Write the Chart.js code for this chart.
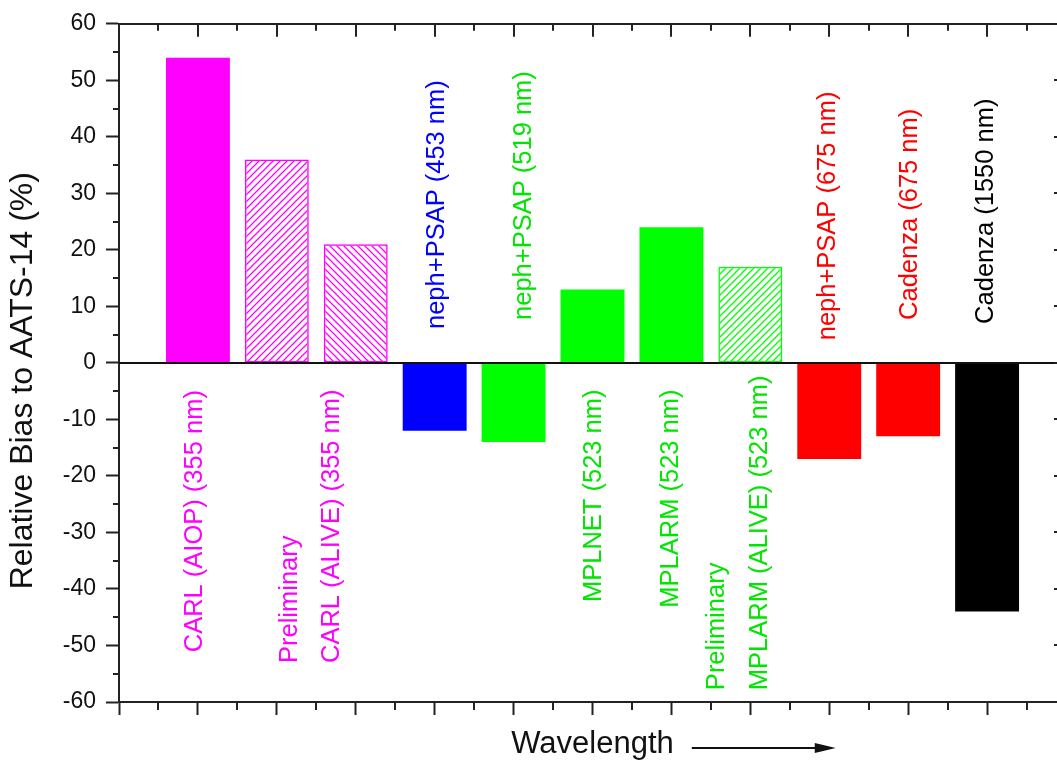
<!DOCTYPE html>
<html>
<head>
<meta charset="utf-8">
<style>
html,body{margin:0;padding:0;overflow:hidden;background:#fff;}
canvas{display:block;}
</style>
<script src="https://cdn.jsdelivr.net/npm/chart.js@4.4.0/dist/chart.umd.min.js"></script>
</head>
<body>
<canvas id="c" width="1070" height="767"></canvas>
<script>
// ---------------- data ----------------
const categories = [
  'CARL (AIOP) 355 nm', 'CARL (ALIVE) 355 nm a', 'CARL (ALIVE) 355 nm b',
  'neph+PSAP 453 nm', 'neph+PSAP 519 nm', 'MPLNET 523 nm', 'MPLARM 523 nm',
  'MPLARM (ALIVE) 523 nm', 'neph+PSAP 675 nm', 'Cadenza 675 nm', 'Cadenza 1550 nm'
];
const values = [54, 36, 21, -12, -14, 13, 24, 17, -17, -13, -44];
const yTickValues = [-60, -50, -40, -30, -20, -10, 0, 10, 20, 30, 40, 50, 60];
const labelTexts = [
  ['CARL (AIOP) (355 nm)'],
  ['Preliminary', 'CARL (ALIVE) (355 nm)'],
  ['neph+PSAP (453 nm)'],
  ['neph+PSAP (519 nm)'],
  ['MPLNET (523 nm)'],
  ['MPLARM (523 nm)'],
  ['Preliminary', 'MPLARM (ALIVE) (523 nm)'],
  ['neph+PSAP (675 nm)'],
  ['Cadenza (675 nm)'],
  ['Cadenza (1550 nm)']
];
const xTitle = 'Wavelength';
const yTitle = 'Relative Bias to AATS-14 (%)';

// ---------------- styles / layout ----------------
const barColors = ['#ff00ff','#ff00ff','#ff00ff','#0000ff','#00ff00','#00ff00','#00ff00','#00ff00','#ff0000','#ff0000','#000000'];
const barHatch  = [null, '/', '\\', null, null, null, null, '/', null, null, null];
// label anchors in data units: x per line, y value; 'start' = text begins (bottom) at y, 'end' = text ends (top) at y
const labelLayout = [
  {x:[-0.04],      y:-51.2, anchor:'start', color:'#ff00ff'},
  {x:[1.17, 1.70], y:-53.1, anchor:'start', color:'#ff00ff'},
  {x:[3.03],       y:6.0,   anchor:'start', color:'#0000ff'},
  {x:[4.13],       y:7.6,   anchor:'start', color:'#00e600'},
  {x:[5.02],       y:-4.7,  anchor:'end',   color:'#00e600'},
  {x:[5.99],       y:-4.7,  anchor:'end',   color:'#00e600'},
  {x:[6.58, 7.12], y:-57.9, anchor:'start', color:'#00e600'},
  {x:[7.98],       y:4.0,   anchor:'start', color:'#ff0000'},
  {x:[9.02],       y:7.6,   anchor:'start', color:'#ff0000'},
  {x:[9.99],       y:6.9,   anchor:'start', color:'#000000'}
];
const FONT = '"Liberation Sans", Arial, Helvetica, sans-serif';
const AXIS = '#222';
const XTITLE_SIZE = 31;

const mainCtx = document.getElementById('c').getContext('2d');
function hatch(color, dir) {
  const s = 7, pc = document.createElement('canvas');
  pc.width = s; pc.height = s;
  const g = pc.getContext('2d');
  g.strokeStyle = color; g.lineWidth = 1.3;
  g.beginPath();
  if (dir === '/') {
    g.moveTo(-1, s + 1); g.lineTo(s + 1, -1);
    g.moveTo(-1, 1); g.lineTo(1, -1);
    g.moveTo(s - 1, s + 1); g.lineTo(s + 1, s - 1);
  } else {
    g.moveTo(-1, -1); g.lineTo(s + 1, s + 1);
    g.moveTo(s - 1, -1); g.lineTo(s + 1, 1);
    g.moveTo(-1, s - 1); g.lineTo(1, s + 1);
  }
  g.stroke();
  return mainCtx.createPattern(pc, 'repeat');
}
const fills = barColors.map((c, i) => barHatch[i] ? hatch(c, barHatch[i]) : c);
const borderWidths = barHatch.map(h => h ? 1.5 : 0);

function seg(ctx, x1, y1, x2, y2) { ctx.beginPath(); ctx.moveTo(x1, y1); ctx.lineTo(x2, y2); ctx.stroke(); }

const decor = {
  id: 'decor',
  afterDatasetsDraw(chart) {
    const {ctx, chartArea: a, scales: {x, y}} = chart;
    ctx.save();
    // zero line
    ctx.strokeStyle = '#111'; ctx.lineWidth = 2;
    const y0 = Math.round(y.getPixelForValue(0));
    seg(ctx, a.left, y0, a.right, y0);
    // bar annotations
    ctx.font = '25.5px ' + FONT;
    ctx.textBaseline = 'middle';
    ctx.textAlign = 'left';
    labelTexts.forEach((lines, i) => {
      const L = labelLayout[i];
      const w = Math.max(...lines.map(t => ctx.measureText(t).width));
      let start = y.getPixelForValue(L.y);
      if (L.anchor === 'end') start += w;
      ctx.fillStyle = L.color;
      lines.forEach((t, j) => {
        ctx.save();
        ctx.translate(x.getPixelForValue(L.x[j]), start);
        ctx.rotate(-Math.PI / 2);
        ctx.fillText(t, 0, 0);
        ctx.restore();
      });
    });
    ctx.restore();
  },
  afterDraw(chart) {
    const {ctx, chartArea: a, scales: {x, y}} = chart;
    ctx.save();
    ctx.strokeStyle = AXIS; ctx.lineWidth = 2;
    // top and right frame
    seg(ctx, a.left - 1, Math.round(a.top), a.right + 1, Math.round(a.top));
    seg(ctx, Math.round(a.right), a.top, Math.round(a.right), a.bottom);
    // x ticks: top (inward, major+minor), bottom minor (outward)
    for (let v = x.min; v <= x.max + 1e-9; v += 0.5) {
      const px = Math.round(x.getPixelForValue(v));
      const major = Math.abs(v - Math.round(v)) < 1e-9;
      seg(ctx, px, a.top, px, a.top + (major ? 13 : 7));
      if (!major) seg(ctx, px, a.bottom, px, a.bottom + 8);
    }
    // y ticks: left minor (outward), right major+minor (inward)
    for (let v = y.min; v <= y.max + 1e-9; v += 5) {
      const py = Math.round(y.getPixelForValue(v));
      const major = v % 10 === 0;
      if (!major) seg(ctx, a.left, py, a.left - 6, py);
      seg(ctx, a.right, py, a.right - (major ? 12 : 6), py);
    }
    // arrow after x title
    ctx.font = XTITLE_SIZE + 'px ' + FONT;
    const tw = ctx.measureText(xTitle).width;
    const cx = (a.left + a.right) / 2;
    const ay = 748;
    const x1 = cx + tw / 2 + 18, x2 = x1 + 144;
    ctx.strokeStyle = '#111'; ctx.lineWidth = 2;
    seg(ctx, x1, ay, x2 - 18, ay);
    ctx.fillStyle = '#111';
    ctx.beginPath();
    ctx.moveTo(x2, ay); ctx.lineTo(x2 - 21, ay - 5); ctx.lineTo(x2 - 21, ay + 5); ctx.closePath();
    ctx.fill();
    ctx.restore();
  }
};

new Chart(document.getElementById('c'), {
  type: 'bar',
  data: {
    labels: categories,
    datasets: [{
      label: 'Relative bias',
      data: values.map((v, i) => ({x: i, y: v})),
      backgroundColor: fills,
      borderColor: barColors,
      borderWidth: borderWidths,
      borderSkipped: false,
      barPercentage: 0.81,
      categoryPercentage: 1.0
    }]
  },
  options: {
    responsive: false,
    animation: false,
    devicePixelRatio: 1,
    layout: {padding: {top: 20, right: 4, bottom: 0, left: 0}},
    plugins: {legend: {display: false}, tooltip: {enabled: false}},
    scales: {
      x: {
        type: 'linear',
        offset: false,
        min: -1, max: categories.length,
        ticks: {display: false, stepSize: 1},
        grid: {display: true, offset: false, drawOnChartArea: false, drawTicks: true, tickLength: 13, tickWidth: 2, tickColor: AXIS},
        border: {display: true, color: AXIS, width: 2},
        title: {display: true, text: xTitle, color: '#111', font: {family: FONT, size: XTITLE_SIZE}, padding: {top: 0, bottom: 4}},
        afterFit: s => { s.height = 65; }
      },
      y: {
        min: yTickValues[0], max: yTickValues[yTickValues.length - 1],
        afterBuildTicks: s => { s.ticks = yTickValues.map(v => ({value: v})); },
        ticks: {color: '#111', font: {family: FONT, size: 23}, padding: 10, callback: v => String(v)},
        grid: {display: true, drawOnChartArea: false, drawTicks: true, tickLength: 13, tickWidth: 2, tickColor: AXIS},
        border: {display: true, color: AXIS, width: 2},
        title: {display: true, text: yTitle + '\u00a0\u00a0\u00a0\u00a0', color: '#111', font: {family: FONT, size: 32}, padding: {top: 4, bottom: 0}},
        afterFit: s => { s.width = 119; }
      }
    }
  },
  plugins: [decor]
});
</script>
</body>
</html>
